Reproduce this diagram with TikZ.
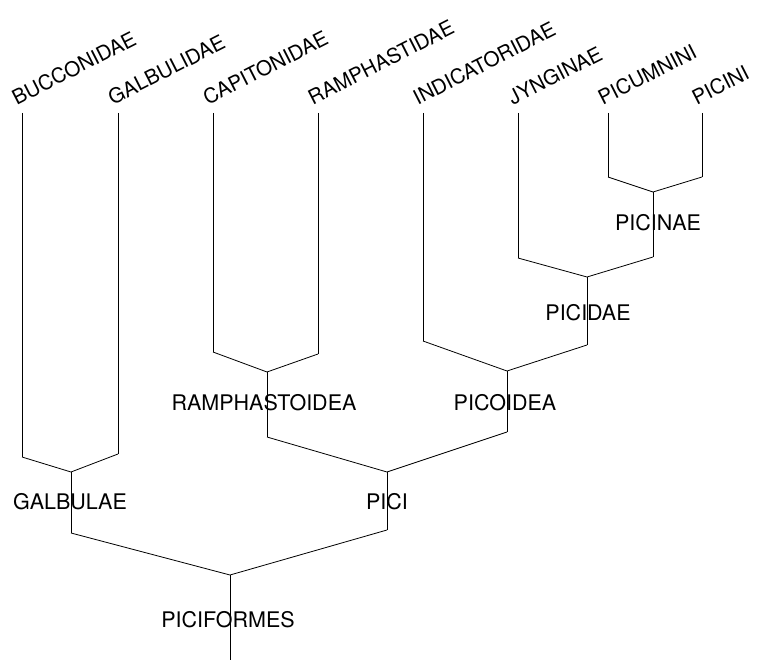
\documentclass[tikz,border=0pt]{standalone}
\usepackage{fontspec}
\setmainfont{TeX Gyre Heros}
\usetikzlibrary{positioning}

\tikzset{
  branch/.style={line width=0.8pt},
  taxon/.style={inner sep=0pt,font=\fontsize{21.5}{24}\selectfont},
  leaf/.style={inner sep=0pt,font=\fontsize{20.5}{24}\selectfont,rotate=27,anchor=south west}
}

\begin{document}
\begin{tikzpicture}[x=1pt,y=-1pt]
\useasboundingbox (0,0) rectangle (760,660);
% families and tribes at the tips
\foreach \name/\x/\y/\txt in {bucc/22/457/BUCCONIDAE, galb/118/454/GALBULIDAE,
    capi/213/352/CAPITONIDAE, ramp/318/354/RAMPHASTIDAE, indi/423/341/INDICATORIDAE,
    jyng/518/258/JYNGINAE, picu/608/177/PICUMNINI, picn/702/177/PICINI} {
  \coordinate (\name top) at (\x,113);
  \coordinate (\name) at (\x,\y);
  \node [leaf] (\name lab) at (\x-5,106) {\txt};
  \draw [branch] (\name top) -- (\name);
}
% branching points, label, end of stem
\coordinate (picinae) at (653,192);
\node [taxon] (picinae lab) at (658,223) {PICINAE};
\coordinate (picinae end) at (653,257);
\coordinate (picidae) at (587,277);
\node [taxon] (picidae lab) at (588,313) {PICIDAE};
\coordinate (picidae end) at (587,345);
\coordinate (picoidea) at (507,371);
\node [taxon] (picoidea lab) at (505,403) {PICOIDEA};
\coordinate (picoidea end) at (507,432);
\coordinate (ramphas) at (267,372);
\node [taxon] (ramphas lab) at (264,403) {RAMPHASTOIDEA};
\coordinate (ramphas end) at (267,437);
\coordinate (pici) at (387,472);
\node [taxon] (pici lab) at (387,502) {PICI};
\coordinate (pici end) at (387,530);
\coordinate (galbulae) at (71,472);
\node [taxon] (galbulae lab) at (70,502) {GALBULAE};
\coordinate (galbulae end) at (71,533);
\coordinate (piciformes) at (230,575);
\node [taxon] (piciformes lab) at (228,620) {PICIFORMES};
\coordinate (piciformes end) at (230,660);
% the tree
\draw [branch] (picu) -- (picinae) -- (picn);
\draw [branch] (picinae) -- (picinae end);
\draw [branch] (jyng) -- (picidae) -- (picinae end);
\draw [branch] (picidae) -- (picidae end);
\draw [branch] (indi) -- (picoidea) -- (picidae end);
\draw [branch] (picoidea) -- (picoidea end);
\draw [branch] (capi) -- (ramphas) -- (ramp);
\draw [branch] (ramphas) -- (ramphas end);
\draw [branch] (ramphas end) -- (pici) -- (picoidea end);
\draw [branch] (pici) -- (pici end);
\draw [branch] (bucc) -- (galbulae) -- (galb);
\draw [branch] (galbulae) -- (galbulae end);
\draw [branch] (galbulae end) -- (piciformes) -- (pici end);
\draw [branch] (piciformes) -- (piciformes end);
\end{tikzpicture}
\end{document}
